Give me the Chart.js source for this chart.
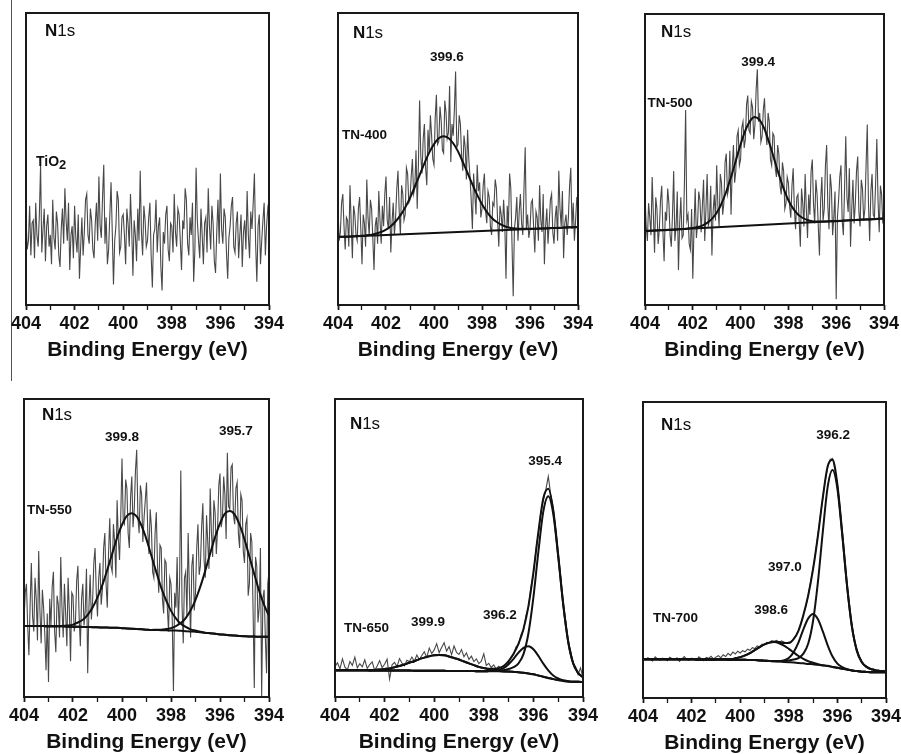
<!DOCTYPE html>
<html>
<head>
<meta charset="utf-8">
<title>N1s XPS spectra</title>
<script src="https://cdn.jsdelivr.net/npm/chart.js@4.4.1/dist/chart.umd.min.js"></script>
<style>
  body { margin: 0; background: #fff; width: 901px; height: 754px; position: relative; overflow: hidden; }
  #edge { position: absolute; left: 11px; top: 0; width: 1px; height: 381px; background: #555; }
  canvas { position: absolute; }
</style>
</head>
<body>
<div id="edge"></div>
<script>
// energy grids (eV)
const energyFine = [
  404.00, 403.95, 403.90, 403.85, 403.80, 403.75, 403.70, 403.65, 403.60, 403.55,
  403.50, 403.45, 403.40, 403.35, 403.30, 403.25, 403.20, 403.15, 403.10, 403.05,
  403.00, 402.95, 402.90, 402.85, 402.80, 402.75, 402.70, 402.65, 402.60, 402.55,
  402.50, 402.45, 402.40, 402.35, 402.30, 402.25, 402.20, 402.15, 402.10, 402.05,
  402.00, 401.95, 401.90, 401.85, 401.80, 401.75, 401.70, 401.65, 401.60, 401.55,
  401.50, 401.45, 401.40, 401.35, 401.30, 401.25, 401.20, 401.15, 401.10, 401.05,
  401.00, 400.95, 400.90, 400.85, 400.80, 400.75, 400.70, 400.65, 400.60, 400.55,
  400.50, 400.45, 400.40, 400.35, 400.30, 400.25, 400.20, 400.15, 400.10, 400.05,
  400.00, 399.95, 399.90, 399.85, 399.80, 399.75, 399.70, 399.65, 399.60, 399.55,
  399.50, 399.45, 399.40, 399.35, 399.30, 399.25, 399.20, 399.15, 399.10, 399.05,
  399.00, 398.95, 398.90, 398.85, 398.80, 398.75, 398.70, 398.65, 398.60, 398.55,
  398.50, 398.45, 398.40, 398.35, 398.30, 398.25, 398.20, 398.15, 398.10, 398.05,
  398.00, 397.95, 397.90, 397.85, 397.80, 397.75, 397.70, 397.65, 397.60, 397.55,
  397.50, 397.45, 397.40, 397.35, 397.30, 397.25, 397.20, 397.15, 397.10, 397.05,
  397.00, 396.95, 396.90, 396.85, 396.80, 396.75, 396.70, 396.65, 396.60, 396.55,
  396.50, 396.45, 396.40, 396.35, 396.30, 396.25, 396.20, 396.15, 396.10, 396.05,
  396.00, 395.95, 395.90, 395.85, 395.80, 395.75, 395.70, 395.65, 395.60, 395.55,
  395.50, 395.45, 395.40, 395.35, 395.30, 395.25, 395.20, 395.15, 395.10, 395.05,
  395.00, 394.95, 394.90, 394.85, 394.80, 394.75, 394.70, 394.65, 394.60, 394.55,
  394.50, 394.45, 394.40, 394.35, 394.30, 394.25, 394.20, 394.15, 394.10, 394.05,
  394.00
];
const energy = [
  404.0, 403.9, 403.8, 403.7, 403.6, 403.5, 403.4, 403.3, 403.2, 403.1,
  403.0, 402.9, 402.8, 402.7, 402.6, 402.5, 402.4, 402.3, 402.2, 402.1,
  402.0, 401.9, 401.8, 401.7, 401.6, 401.5, 401.4, 401.3, 401.2, 401.1,
  401.0, 400.9, 400.8, 400.7, 400.6, 400.5, 400.4, 400.3, 400.2, 400.1,
  400.0, 399.9, 399.8, 399.7, 399.6, 399.5, 399.4, 399.3, 399.2, 399.1,
  399.0, 398.9, 398.8, 398.7, 398.6, 398.5, 398.4, 398.3, 398.2, 398.1,
  398.0, 397.9, 397.8, 397.7, 397.6, 397.5, 397.4, 397.3, 397.2, 397.1,
  397.0, 396.9, 396.8, 396.7, 396.6, 396.5, 396.4, 396.3, 396.2, 396.1,
  396.0, 395.9, 395.8, 395.7, 395.6, 395.5, 395.4, 395.3, 395.2, 395.1,
  395.0, 394.9, 394.8, 394.7, 394.6, 394.5, 394.4, 394.3, 394.2, 394.1,
  394.0
];
const fitEnergy = [
  404.0, 403.8, 403.6, 403.4, 403.2, 403.0, 402.8, 402.6, 402.4, 402.2,
  402.0, 401.8, 401.6, 401.4, 401.2, 401.0, 400.8, 400.6, 400.4, 400.2,
  400.0, 399.8, 399.6, 399.4, 399.2, 399.0, 398.8, 398.6, 398.4, 398.2,
  398.0, 397.8, 397.6, 397.4, 397.2, 397.0, 396.8, 396.6, 396.4, 396.2,
  396.0, 395.8, 395.6, 395.4, 395.2, 395.0, 394.8, 394.6, 394.4, 394.2,
  394.0
];
const baseEnds = [404, 394];
const tickLabels = [404, 402, 400, 398, 396, 394];

// measured counts (arb. units, % of panel height)
const tio2Counts = [
  30, 19, 22, 34, 17, 28, 29, 16, 35, 24, 20, 31, 48, 18, 26, 33, 15, 27, 31, 20,
  24, 14, 36, 23, 19, 32, 28, 17, 13, 26, 33, 21, 40, 29, 22, 35, 12, 24, 27, 16,
  34, 23, 18, 31, 9, 20, 30, 17, 25, 36, 38, 24, 21, 33, 29, 19, 16, 28, 35, 22,
  44, 27, 23, 37, 48, 21, 30, 14, 19, 31, 42, 25, 7, 22, 27, 39, 36, 18, 20, 30,
  31, 24, 14, 33, 28, 20, 38, 26, 10, 29, 24, 15, 33, 22, 46, 25, 17, 34, 29, 20,
  22, 30, 35, 17, 6, 24, 26, 36, 18, 27, 30, 13, 5, 25, 21, 31, 34, 19, 15, 28,
  27, 18, 38, 25, 20, 33, 31, 22, 12, 29, 26, 40, 36, 21, 17, 30, 24, 35, 8, 19,
  47, 29, 22, 16, 33, 24, 14, 28, 30, 18, 40, 27, 19, 34, 28, 15, 11, 25, 36, 21,
  45, 26, 21, 33, 30, 18, 9, 23, 27, 34, 37, 20, 18, 28, 32, 16, 24, 31, 13, 25,
  29, 19, 39, 24, 16, 32, 26, 35, 45, 21, 8, 27, 31, 14, 22, 29, 35, 17, 27, 33,
  30
];
const tn400Counts = [
  33, 22, 25, 35, 38, 27, 19, 30, 29, 20, 41, 28, 16, 34, 31, 24, 22, 33, 37, 26,
  14, 31, 28, 20, 43, 30, 24, 36, 33, 23, 12, 27, 30, 21, 39, 29, 21, 34, 27, 38,
  44, 29, 26, 37, 18, 28, 35, 24, 30, 40, 46, 32, 24, 41, 38, 29, 31, 47, 45, 35,
  36, 44, 50, 38, 40, 53, 33, 48, 70, 51, 45, 57, 62, 47, 41, 60, 52, 65, 58, 50,
  48, 64, 72, 55, 56, 68, 63, 53, 52, 70, 66, 57, 59, 75, 49, 62, 58, 67, 80, 54,
  55, 65, 62, 51, 46, 58, 54, 43, 60, 50, 44, 36, 26, 45, 38, 31, 48, 39, 42, 30,
  33, 41, 45, 32, 28, 39, 37, 27, 24, 35, 34, 43, 40, 29, 20, 34, 31, 25, 36, 28,
  9, 34, 27, 45, 40, 21, 3, 26, 30, 37, 22, 32, 38, 28, 24, 40, 54, 26, 31, 23,
  26, 35, 36, 27, 18, 32, 30, 22, 41, 29, 25, 38, 14, 27, 33, 21, 28, 36, 38, 25,
  21, 30, 34, 22, 46, 33, 27, 39, 16, 28, 31, 24, 30, 41, 47, 26, 35, 22, 29, 37,
  32
];
const tn500Counts = [
  38, 27, 22, 35, 30, 24, 44, 31, 18, 37, 33, 21, 26, 36, 41, 25, 15, 32, 29, 40,
  35, 24, 20, 31, 46, 22, 27, 39, 12, 28, 37, 23, 24, 42, 67, 29, 31, 21, 19, 33,
  9, 26, 40, 23, 28, 39, 36, 25, 34, 43, 22, 33, 45, 27, 30, 41, 17, 32, 38, 29,
  48, 34, 27, 45, 42, 31, 35, 49, 52, 38, 40, 53, 31, 47, 55, 42, 46, 58, 60, 48,
  50, 61, 63, 54, 57, 69, 72, 60, 59, 70, 68, 57, 62, 74, 81, 63, 66, 56, 58, 67,
  71, 60, 55, 66, 63, 50, 48, 59, 58, 47, 44, 55, 52, 41, 38, 49, 46, 33, 35, 44,
  42, 34, 30, 41, 47, 33, 26, 37, 38, 29, 20, 40, 35, 27, 45, 33, 23, 38, 31, 46,
  50, 35, 28, 43, 38, 27, 17, 36, 44, 29, 33, 48, 55, 34, 26, 45, 40, 24, 30, 39,
  2, 30, 36, 44, 48, 29, 24, 40, 58, 37, 32, 47, 20, 33, 43, 28, 35, 46, 51, 32,
  27, 43, 40, 29, 33, 48, 62, 35, 22, 39, 45, 31, 30, 42, 57, 36, 25, 41, 38, 28,
  34
];
const tn550Counts = [
  26, 35, 38, 24, 14, 31, 45, 27, 22, 40, 33, 19, 49, 29, 18, 36, 30, 21, 9, 28,
  5, 33, 24, 37, 42, 22, 15, 34, 31, 20, 47, 30, 20, 38, 28, 17, 40, 29, 12, 35,
  34, 22, 25, 39, 44, 27, 17, 33, 38, 24, 29, 43, 8, 30, 41, 26, 32, 45, 50, 35,
  27, 40, 45, 31, 36, 50, 55, 38, 30, 48, 60, 44, 42, 58, 52, 40, 66, 53, 46, 61,
  80, 59, 58, 73, 70, 55, 50, 67, 74, 57, 63, 76, 83, 60, 55, 71, 68, 52, 60, 66,
  72, 56, 48, 63, 57, 42, 40, 55, 62, 44, 35, 51, 50, 33, 28, 46, 45, 30, 22, 40,
  38, 26, 2, 35, 30, 47, 24, 38, 76, 31, 18, 40, 42, 27, 55, 36, 20, 44, 48, 29,
  35, 50, 58, 41, 44, 57, 65, 46, 40, 61, 52, 43, 70, 55, 47, 66, 62, 48, 56, 71,
  75, 57, 60, 74, 68, 53, 82, 64, 63, 77, 78, 61, 58, 70, 72, 55, 50, 68, 66, 49,
  45, 58, 60, 34, 38, 55, 52, 29, 3, 47, 44, 25, 30, 50, 0, 33, 36, 20, 8, 38,
  42
];
const tn650Counts = [
  10.2, 11.5, 9.4, 12.8, 10.0, 9.1, 11.9, 10.6, 13.4, 9.8,
  11.2, 10.1, 12.5, 9.6, 10.9, 11.8, 8.9, 10.4, 12.2, 9.9,
  11.0, 12.7, 6.0, 10.8, 11.6, 10.2, 12.9, 11.4, 10.5, 12.3,
  11.8, 13.4, 12.0, 14.1, 12.6, 13.9, 15.2, 13.3, 16.4, 14.6,
  15.8, 17.9, 14.9, 16.6, 18.2, 15.4, 16.9, 14.2, 17.1, 15.0,
  14.3, 15.9, 13.5, 14.8, 12.6, 13.7, 11.9, 12.8, 11.2, 12.0,
  14.5, 10.6, 11.3, 9.9, 10.8, 9.4, 10.3, 9.7, 10.5, 10.1,
  11.6, 13.5, 14.2, 16.8, 17.5, 20.9, 22.4, 27.3, 30.1, 36.8,
  41.2, 49.3, 54.8, 62.0, 66.1, 69.5, 74.0, 67.9, 63.4, 56.0,
  47.1, 40.2, 30.8, 25.6, 18.2, 15.6, 11.0, 10.2, 7.6, 9.8,
  6.3
];
const tn700Counts = [
  13.4, 12.8, 13.6, 13.0, 12.5, 13.9, 13.2, 12.7, 13.5, 13.1,
  12.6, 13.8, 13.3, 12.9, 13.6, 12.4, 13.2, 14.0, 13.0, 12.7,
  13.5, 13.1, 12.8, 13.9, 13.3, 12.6, 13.7, 13.4, 14.1, 13.2,
  13.8, 14.3, 13.6, 14.6, 14.0, 15.1, 14.4, 15.5, 14.9, 15.8,
  15.2, 16.0, 15.6, 16.5, 16.1, 17.0, 16.7, 17.6, 17.3, 18.2,
  18.0, 18.8, 18.6, 19.4, 19.1, 19.5, 18.8, 19.3, 18.9, 18.5,
  18.9, 19.0, 20.1, 21.2, 22.9, 25.1, 28.2, 31.0, 34.6, 39.4,
  43.9, 49.0, 55.2, 61.6, 67.5, 73.4, 78.0, 80.6, 80.9, 77.1,
  72.4, 64.2, 55.3, 46.8, 37.6, 30.4, 24.3, 19.5, 16.2, 13.7,
  12.4, 11.1, 10.7, 9.9, 9.6, 9.8, 9.2, 9.5, 8.9, 9.3,
  8.8
];

// fitted curves (baseline + component), on fitEnergy
const tn400Base = [23.3, 26.7];
const tn400Peak = [
  23.3, 23.4, 23.4, 23.5, 23.6, 23.7, 23.9, 24.1, 24.5, 25.0,
  25.8, 27.0, 28.6, 30.7, 33.4, 36.7, 40.5, 44.5, 48.5, 52.2,
  55.1, 57.1, 57.8, 57.2, 55.4, 52.6, 49.0, 45.2, 41.3, 37.7,
  34.5, 31.9, 29.9, 28.5, 27.5, 26.8, 26.4, 26.2, 26.1, 26.1,
  26.1, 26.1, 26.2, 26.2, 26.3, 26.4, 26.4, 26.5, 26.6, 26.6,
  26.7
];
const tn500Base = [25.4, 29.7];
const tn500Peak = [
  25.4, 25.5, 25.6, 25.7, 25.7, 25.8, 25.9, 26.0, 26.1, 26.3,
  26.5, 26.8, 27.3, 28.2, 29.6, 31.7, 34.8, 39.0, 44.0, 49.6,
  55.2, 60.0, 63.3, 64.6, 63.5, 60.4, 55.7, 50.3, 44.9, 40.0,
  36.0, 33.1, 31.1, 29.9, 29.2, 28.8, 28.7, 28.7, 28.7, 28.8,
  28.8, 28.9, 29.0, 29.1, 29.2, 29.3, 29.4, 29.4, 29.5, 29.6,
  29.7
];
const tn550Base = [
  23.8, 23.8, 23.8, 23.8, 23.8, 23.7, 23.7, 23.7, 23.7, 23.6,
  23.6, 23.6, 23.5, 23.5, 23.4, 23.4, 23.3, 23.3, 23.2, 23.2,
  23.1, 23.0, 22.9, 22.8, 22.7, 22.6, 22.5, 22.5, 22.4, 22.4,
  22.3, 22.3, 22.2, 22.1, 22.0, 21.9, 21.7, 21.5, 21.4, 21.2,
  21.0, 20.9, 20.7, 20.6, 20.5, 20.4, 20.3, 20.3, 20.2, 20.2,
  20.2
];
const tn550Peak1 = [
  23.8, 23.8, 23.8, 23.8, 23.8, 23.7, 23.7, 23.8, 23.9, 24.0,
  24.3, 25.0, 25.9, 27.6, 30.0, 33.4, 37.6, 42.7, 48.1, 53.5,
  57.8, 60.8, 61.7, 60.6, 57.4, 52.9, 47.4, 41.9, 36.7, 32.4,
  28.9, 26.4, 24.6, 23.5, 22.7, 22.3, 21.9, 21.6, 21.4, 21.2,
  21.0, 20.9, 20.7, 20.6, 20.5, 20.4, 20.3, 20.3, 20.2, 20.2,
  20.2
];
const tn550Peak2 = [
  23.8, 23.8, 23.8, 23.8, 23.8, 23.7, 23.7, 23.7, 23.7, 23.6,
  23.6, 23.6, 23.5, 23.5, 23.4, 23.4, 23.3, 23.3, 23.2, 23.2,
  23.1, 23.0, 22.9, 22.8, 22.7, 22.6, 22.5, 22.6, 22.6, 22.8,
  23.1, 23.8, 24.8, 26.5, 29.1, 32.6, 37.1, 42.4, 48.2, 53.7,
  58.3, 61.5, 62.4, 61.2, 57.8, 52.9, 47.1, 41.2, 35.6, 30.9,
  27.3
];
const tn650Base = [
  9.0, 9.0, 9.0, 9.0, 9.0, 9.0, 9.0, 8.9, 8.9, 8.9,
  8.9, 8.9, 8.9, 8.9, 8.9, 8.9, 8.8, 8.8, 8.8, 8.8,
  8.8, 8.8, 8.8, 8.7, 8.7, 8.7, 8.7, 8.7, 8.7, 8.6,
  8.6, 8.6, 8.6, 8.6, 8.5, 8.5, 8.4, 8.3, 8.1, 7.9,
  7.6, 7.2, 6.8, 6.4, 6.0, 5.7, 5.4, 5.2, 5.1, 5.1,
  5.0
];
const tn650PeakA = [
  9.0, 9.0, 9.0, 9.0, 9.0, 9.0, 9.0, 9.0, 9.1, 9.2,
  9.4, 9.6, 10.0, 10.4, 10.9, 11.5, 12.0, 12.7, 13.2, 13.7,
  14.0, 14.1, 14.0, 13.6, 13.1, 12.6, 11.9, 11.3, 10.7, 10.1,
  9.7, 9.3, 9.1, 8.9, 8.7, 8.6, 8.5, 8.3, 8.1, 7.9,
  7.6, 7.2, 6.8, 6.4, 6.0, 5.7, 5.4, 5.2, 5.1, 5.1,
  5.0
];
const tn650PeakB = [
  9.0, 9.0, 9.0, 9.0, 9.0, 9.0, 9.0, 8.9, 8.9, 8.9,
  8.9, 8.9, 8.9, 8.9, 8.9, 8.9, 8.8, 8.8, 8.8, 8.8,
  8.8, 8.8, 8.8, 8.7, 8.7, 8.7, 8.7, 8.7, 8.7, 8.6,
  8.6, 8.7, 8.8, 9.1, 9.7, 11.0, 12.8, 14.9, 16.5, 17.0,
  16.0, 13.8, 11.2, 8.9, 7.2, 6.2, 5.6, 5.3, 5.1, 5.1,
  5.0
];
const tn650PeakC = [
  9.0, 9.0, 9.0, 9.0, 9.0, 9.0, 9.0, 8.9, 8.9, 8.9,
  8.9, 8.9, 8.9, 8.9, 8.9, 8.9, 8.8, 8.8, 8.8, 8.8,
  8.8, 8.8, 8.8, 8.7, 8.7, 8.7, 8.7, 8.7, 8.7, 8.6,
  8.6, 8.7, 8.8, 8.9, 9.0, 9.4, 10.0, 11.3, 14.4, 21.4,
  33.4, 48.7, 62.3, 67.4, 61.5, 47.2, 31.2, 18.7, 11.4, 8.1,
  6.6
];
const tn650Sum = [
  9.0, 9.0, 9.0, 9.0, 9.0, 9.0, 9.0, 9.0, 9.1, 9.2,
  9.4, 9.6, 10.0, 10.4, 10.9, 11.5, 12.0, 12.7, 13.2, 13.7,
  14.0, 14.1, 14.0, 13.6, 13.1, 12.6, 11.9, 11.3, 10.7, 10.1,
  9.7, 9.5, 9.5, 9.7, 10.4, 12.0, 14.5, 17.9, 22.8, 30.5,
  41.8, 55.3, 66.7, 69.9, 62.7, 47.7, 31.4, 18.8, 11.4, 8.1,
  6.6
];
const tn700Base = [
  13.1, 13.1, 13.1, 13.1, 13.1, 13.1, 13.1, 13.1, 13.1, 13.1,
  13.1, 13.0, 13.0, 13.0, 13.0, 13.0, 13.0, 13.0, 12.9, 12.9,
  12.9, 12.9, 12.8, 12.8, 12.7, 12.6, 12.5, 12.4, 12.3, 12.2,
  12.1, 12.0, 11.8, 11.7, 11.5, 11.4, 11.2, 11.0, 10.8, 10.5,
  10.2, 9.9, 9.6, 9.3, 9.1, 8.9, 8.8, 8.7, 8.7, 8.7,
  8.7
];
const tn700Peak1 = [
  13.1, 13.1, 13.1, 13.1, 13.1, 13.1, 13.1, 13.1, 13.1, 13.1,
  13.1, 13.0, 13.0, 13.0, 13.0, 13.0, 13.1, 13.1, 13.1, 13.4,
  13.8, 14.4, 15.2, 16.2, 17.2, 18.1, 18.7, 18.9, 18.5, 17.7,
  16.6, 15.4, 14.2, 13.2, 12.4, 11.9, 11.4, 11.1, 10.9, 10.5,
  10.2, 9.9, 9.6, 9.3, 9.1, 8.9, 8.8, 8.7, 8.7, 8.7,
  8.7
];
const tn700Peak2 = [
  13.1, 13.1, 13.1, 13.1, 13.1, 13.1, 13.1, 13.1, 13.1, 13.1,
  13.1, 13.0, 13.0, 13.0, 13.0, 13.0, 13.0, 13.0, 12.9, 12.9,
  12.9, 12.9, 12.8, 12.8, 12.7, 12.6, 12.5, 12.4, 12.4, 12.7,
  13.5, 15.5, 18.8, 23.2, 26.9, 28.4, 26.6, 22.5, 17.8, 14.0,
  11.6, 10.4, 9.7, 9.3, 9.1, 8.9, 8.8, 8.7, 8.7, 8.7,
  8.7
];
const tn700Peak3 = [
  13.1, 13.1, 13.1, 13.1, 13.1, 13.1, 13.1, 13.1, 13.1, 13.1,
  13.1, 13.0, 13.0, 13.0, 13.0, 13.0, 13.0, 13.0, 12.9, 12.9,
  12.9, 12.9, 12.8, 12.8, 12.7, 12.6, 12.5, 12.5, 12.5, 12.6,
  12.7, 13.0, 13.5, 15.0, 18.4, 26.1, 39.3, 56.2, 71.3, 77.0,
  70.7, 55.1, 37.7, 24.0, 16.0, 12.2, 10.5, 9.7, 9.3, 9.1,
  8.9
];
const tn700Sum = [
  13.1, 13.1, 13.1, 13.1, 13.1, 13.1, 13.1, 13.1, 13.1, 13.1,
  13.1, 13.0, 13.0, 13.0, 13.0, 13.0, 13.1, 13.1, 13.1, 13.4,
  13.8, 14.4, 15.2, 16.2, 17.2, 18.1, 18.7, 19.0, 18.9, 18.6,
  18.6, 19.9, 22.8, 28.0, 34.7, 43.6, 54.9, 67.8, 78.3, 80.5,
  72.1, 55.6, 37.8, 24.0, 16.0, 12.2, 10.5, 9.7, 9.3, 9.1,
  8.9
];

// ---- layout / look ----
const PAD_X = 20, PAD_T = 6, AXIS_H = 60;
const FONT = '"Liberation Sans", Arial, Helvetica, sans-serif';
Chart.defaults.font.family = FONT;

function n1s(x, y) {
  return { x: x, y: y, align: 'left', parts: [['N', 'bold', 17], ['1s', 'normal', 17]] };
}
function tag(text, x, y, align) {
  return { x: x, y: y, align: align || 'center', parts: [[text, 'bold', 13.5]] };
}

const panels = [
  { box: [26, 13, 269, 305], raw: [energyFine, tio2Counts], fits: [],
    labels: [n1s(403.22, 93.7),
      { x: 403.59, y: 49.0, align: 'left', parts: [['TiO', 'bold', 14], ['2', 'bold', 13, 4]] }] },
  { box: [338, 13, 578, 305], raw: [energyFine, tn400Counts],
    fits: [[baseEnds, tn400Base], [fitEnergy, tn400Peak]],
    labels: [n1s(403.38, 93.2), tag('399.6', 399.46, 84.8), tag('TN-400', 403.83, 58.2, 'left')] },
  { box: [645, 14, 884, 305], raw: [energyFine, tn500Counts],
    fits: [[baseEnds, tn500Base], [fitEnergy, tn500Peak]],
    labels: [n1s(403.33, 93.8), tag('399.4', 399.27, 83.5), tag('TN-500', 403.9, 69.4, 'left')] },
  { box: [24, 399, 269, 697], raw: [energyFine, tn550Counts],
    fits: [[fitEnergy, tn550Base], [fitEnergy, tn550Peak1], [fitEnergy, tn550Peak2]],
    labels: [n1s(403.27, 94.6), tag('399.8', 400.0, 87.2), tag('395.7', 395.35, 89.3),
      tag('TN-550', 403.88, 62.8, 'left')] },
  { box: [335, 399, 583, 697], raw: [energy, tn650Counts],
    fits: [[fitEnergy, tn650Base], [fitEnergy, tn650PeakA], [fitEnergy, tn650PeakB],
      [fitEnergy, tn650PeakC], [fitEnergy, tn650Sum]],
    labels: [n1s(403.40, 91.6), tag('395.4', 395.53, 79.2), tag('396.2', 397.35, 27.5),
      tag('399.9', 400.25, 25.2), tag('TN-650', 403.64, 23.2, 'left')] },
  { box: [643, 402, 886, 698], raw: [energy, tn700Counts],
    fits: [[fitEnergy, tn700Base], [fitEnergy, tn700Peak1], [fitEnergy, tn700Peak2],
      [fitEnergy, tn700Peak3], [fitEnergy, tn700Sum]],
    labels: [n1s(403.26, 92.2), tag('396.2', 396.18, 88.9), tag('397.0', 398.16, 44.3),
      tag('398.6', 398.73, 29.7), tag('TN-700', 403.59, 27.0, 'left')] }
];

// frame + in-plot texts
const framePlugin = {
  id: 'frame',
  afterDatasetsDraw: function (chart, args, opts) {
    const ctx = chart.ctx, a = chart.chartArea;
    const xs = chart.scales.x, ys = chart.scales.y;
    ctx.save();
    ctx.strokeStyle = '#1a1a1a';
    ctx.lineWidth = 2;
    ctx.strokeRect(a.left, a.top, a.right - a.left, a.bottom - a.top);
    ctx.fillStyle = '#111';
    ctx.textBaseline = 'middle';
    ctx.textAlign = 'left';
    (opts.labels || []).forEach(function (lb) {
      let px = xs.getPixelForValue(lb.x);
      const py = ys.getPixelForValue(lb.y);
      const widths = lb.parts.map(function (p) {
        ctx.font = p[1] + ' ' + p[2] + 'px ' + FONT;
        return ctx.measureText(p[0]).width;
      });
      if (lb.align === 'center') {
        px -= widths.reduce(function (s, w) { return s + w; }, 0) / 2;
      }
      lb.parts.forEach(function (p, i) {
        ctx.font = p[1] + ' ' + p[2] + 'px ' + FONT;
        ctx.fillText(p[0], px, py + (p[3] || 0));
        px += widths[i];
      });
    });
    ctx.restore();
  }
};

function pts(xs, ys) {
  return xs.map(function (x, k) { return { x: x, y: ys[k] }; });
}

panels.forEach(function (p) {
  const l = p.box[0], t = p.box[1], r = p.box[2], b = p.box[3];
  const canvas = document.createElement('canvas');
  canvas.width = r - l + 2 * PAD_X;
  canvas.height = b - t + PAD_T + AXIS_H;
  canvas.style.left = (l - PAD_X) + 'px';
  canvas.style.top = (t - PAD_T) + 'px';
  document.body.appendChild(canvas);

  const datasets = p.fits.map(function (f) {
    return {
      data: pts(f[0], f[1]),
      borderColor: '#111',
      borderWidth: 2,
      pointRadius: 0,
      cubicInterpolationMode: 'monotone',
      order: 1
    };
  });
  datasets.push({
    data: pts(p.raw[0], p.raw[1]),
    borderColor: '#484848',
    borderWidth: 1.1,
    pointRadius: 0,
    tension: 0,
    order: 2
  });

  new Chart(canvas, {
    type: 'line',
    data: { datasets: datasets },
    options: {
      responsive: false,
      animation: false,
      layout: { padding: { left: PAD_X, right: PAD_X, top: PAD_T, bottom: 0 } },
      plugins: {
        legend: { display: false },
        tooltip: { enabled: false },
        frame: { labels: p.labels }
      },
      scales: {
        x: {
          type: 'linear',
          min: 394,
          max: 404,
          reverse: true,
          border: { display: false },
          grid: {
            drawOnChartArea: false,
            drawTicks: true,
            tickLength: 5,
            tickColor: '#1a1a1a',
            tickWidth: function (c) { return tickLabels.indexOf(c.tick.value) >= 0 ? 1.8 : 1.3; }
          },
          ticks: {
            stepSize: 1,
            autoSkip: false,
            maxRotation: 0,
            padding: 3,
            color: '#111',
            font: { size: 18, weight: 'bold' },
            callback: function (v) { return tickLabels.indexOf(v) >= 0 ? String(v) : ''; }
          },
          title: {
            display: true,
            text: 'Binding Energy (eV)',
            color: '#111',
            font: { size: 21, weight: 'bold' },
            padding: { top: 0, bottom: 2.2 }
          }
        },
        y: { display: false, min: 0, max: 100 }
      }
    },
    plugins: [framePlugin]
  });
});
</script>
</body>
</html>
